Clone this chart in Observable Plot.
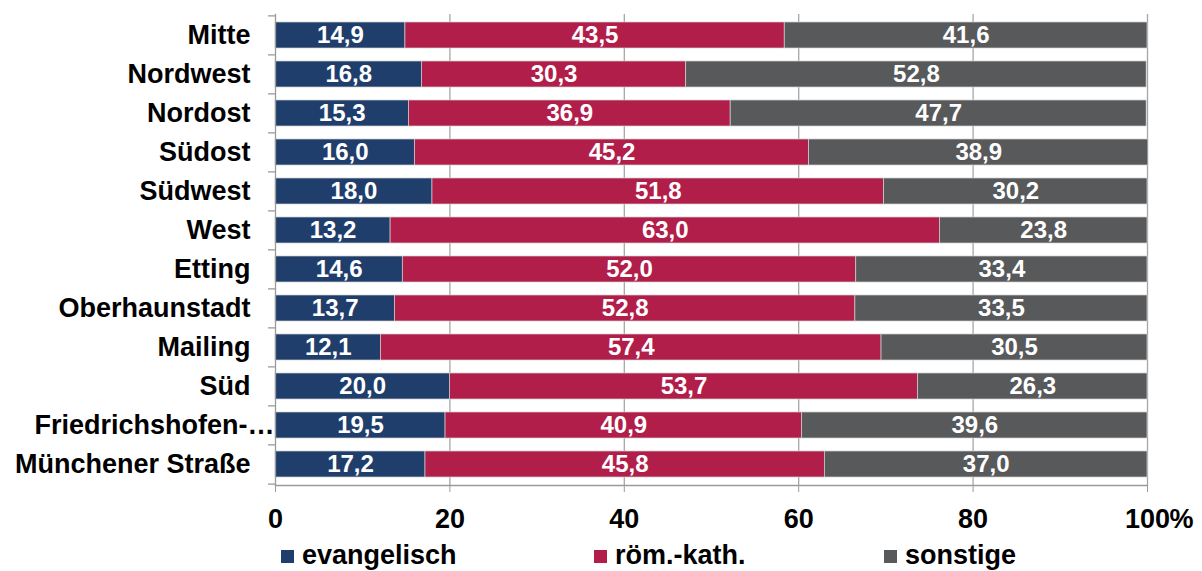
<!DOCTYPE html>
<html>
<head>
<meta charset="utf-8">
<script src="https://cdn.jsdelivr.net/npm/d3@7"></script>
<script src="https://cdn.jsdelivr.net/npm/@observablehq/plot@0.6"></script>
<style>
  html, body { margin: 0; padding: 0; background: #fff; }
  body { width: 1202px; height: 571px; overflow: hidden; font-family: "Liberation Sans", Arial, sans-serif; }
  #chart svg { display: block; }
  #legend { position: relative; height: 31px; font-weight: bold; font-size: 27px; color: #000; }
  .item { position: absolute; top: 0; height: 31px; line-height: 31px; white-space: nowrap; }
  .sw { display: inline-block; width: 13px; height: 13px; margin-right: 8px; vertical-align: 1px; }
</style>
</head>
<body>
<div id="chart"></div>
<div id="legend"></div>
<script>
const regions = ["Mitte","Nordwest","Nordost","Südost","Südwest","West","Etting","Oberhaunstadt","Mailing","Süd","Friedrichshofen-…","Münchener Straße"];
const evangelisch = [14.9,16.8,15.3,16.0,18.0,13.2,14.6,13.7,12.1,20.0,19.5,17.2];
const roemKath    = [43.5,30.3,36.9,45.2,51.8,63.0,52.0,52.8,57.4,53.7,40.9,45.8];
const sonstige    = [41.6,52.8,47.7,38.9,30.2,23.8,33.4,33.5,30.5,26.3,39.6,37.0];
const types = ["evangelisch","röm.-kath.","sonstige"];
const colors = ["#203E6C","#B21E4A","#58595B"];
const xTicks = [0,20,40,60,80,100];

const series = [evangelisch, roemKath, sonstige];
const data = [];
regions.forEach((r, i) => types.forEach((t, j) => data.push({region: r, type: t, value: series[j][i]})));

const fmt = v => v.toFixed(1).replace(".", ",");
const longLabel = "Friedrichshofen-…";
const step = (540 - 14 - 55) / regions.length;

const chart = Plot.plot({
  width: 1202,
  height: 540,
  marginLeft: 275,
  marginRight: 55,
  marginTop: 14,
  marginBottom: 55,
  style: {fontFamily: "'Liberation Sans', Arial, sans-serif", fontWeight: "bold", color: "#000", background: "#fff"},
  x: {domain: [0, 100], ticks: xTicks, label: null},
  y: {domain: regions, paddingInner: 0.34, paddingOuter: 0.17, label: null},
  color: {domain: types, range: colors},
  marks: [
    Plot.gridX(xTicks.slice(1), {stroke: "#a6a6a6", strokeOpacity: 1, strokeWidth: 1.3}),
    Plot.barX(data, {x: "value", y: "region", fill: "type", order: types, stroke: "#d0d0d0", strokeWidth: 0.7}),
    Plot.text(data, Plot.stackX({x: "value", y: "region", z: "type", order: types, text: d => fmt(d.value), fill: "white", fontSize: 24, fontWeight: "bold"})),
    Plot.frame({anchor: "left", stroke: "#9a9a9a", strokeWidth: 1.3}),
    Plot.frame({anchor: "bottom", stroke: "#9a9a9a", strokeWidth: 1.3}),
    Plot.ruleY(regions, {y: d => d, x1: -0.8, x2: 0, dy: -step / 2, stroke: "#9a9a9a", strokeWidth: 1.3, clip: false}),
    Plot.ruleY(regions.slice(-1), {y: d => d, x1: -0.8, x2: 0, dy: step / 2, stroke: "#9a9a9a", strokeWidth: 1.3, clip: false}),
    Plot.axisY({ticks: regions.filter(r => r !== longLabel), tickSize: 0, tickPadding: 25, fontSize: 27, fontWeight: "bold", label: null}),
    Plot.axisY({ticks: [longLabel], tickSize: 0, tickPadding: 1, fontSize: 27, fontWeight: "bold", label: null}),
    Plot.axisX({ticks: xTicks, tickSize: 7, tickPadding: 16, fontSize: 27, fontWeight: "bold", stroke: "#9a9a9a", label: null}),
    Plot.text(["%"], {x: () => 100, frameAnchor: "bottom", lineAnchor: "top", textAnchor: "start", dy: 23, dx: 22, fontSize: 27, fontWeight: "bold", text: d => d, clip: false})
  ]
});
document.getElementById("chart").appendChild(chart);

const legend = document.getElementById("legend");
const lx = [281, 594, 884];
types.forEach((t, i) => {
  const el = document.createElement("div");
  el.className = "item";
  el.style.left = lx[i] + "px";
  el.innerHTML = `<span class="sw" style="background:${colors[i]}"></span>${t}`;
  legend.appendChild(el);
});
</script>
</body>
</html>
